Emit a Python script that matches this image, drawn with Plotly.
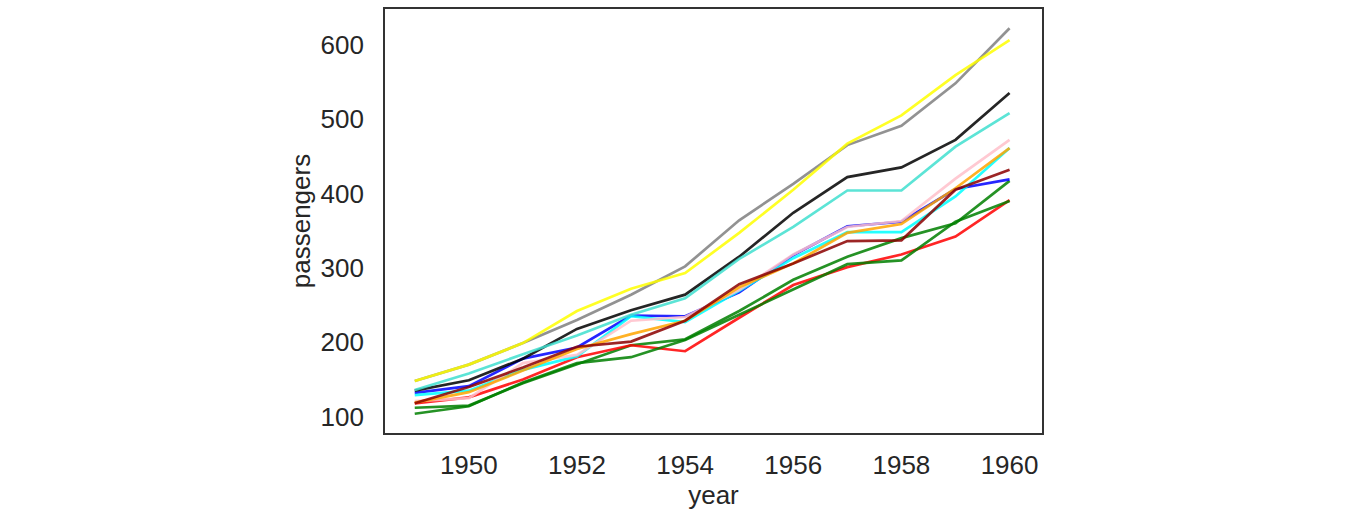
import plotly.graph_objects as go

years = list(range(1949, 1961))
months = ["Jan", "Feb", "Mar", "Apr", "May", "Jun", "Jul", "Aug", "Sep", "Oct", "Nov", "Dec"]
jan = [112, 115, 145, 171, 196, 204, 242, 284, 315, 340, 360, 417]
feb = [118, 126, 150, 180, 196, 188, 233, 277, 301, 318, 342, 391]
mar = [132, 141, 178, 193, 236, 235, 267, 317, 356, 362, 406, 419]
apr = [129, 135, 163, 181, 235, 227, 269, 313, 348, 348, 396, 461]
may = [121, 125, 172, 183, 229, 234, 270, 318, 355, 363, 420, 472]
jun = [135, 149, 178, 218, 243, 264, 315, 374, 422, 435, 472, 535]
jul = [148, 170, 199, 230, 264, 302, 364, 413, 465, 491, 548, 622]
aug = [148, 170, 199, 242, 272, 293, 347, 405, 467, 505, 559, 606]
sep = [136, 158, 184, 209, 237, 259, 312, 355, 404, 404, 463, 508]
oct_ = [119, 133, 162, 191, 211, 229, 274, 306, 347, 359, 407, 461]
nov = [104, 114, 146, 172, 180, 203, 237, 271, 305, 310, 362, 390]
dec = [118, 140, 166, 194, 201, 229, 278, 306, 336, 337, 405, 432]
series = [jan, feb, mar, apr, may, jun, jul, aug, sep, oct_, nov, dec]
colors = ["#008000", "#ff0000", "#0000ff", "#00ffff", "#ffc0cb", "#000000",
          "#808080", "#ffff00", "#40e0d0", "#ffa500", "#008000", "#8b0000"]

fig = go.Figure()
for m, vals, c in zip(months, series, colors):
    fig.add_trace(go.Scatter(x=years, y=vals, mode="lines", name=m,
                             line=dict(color=c, width=2.7), opacity=0.85))

font = dict(family="Liberation Sans, Arial, sans-serif", size=26, color="#262626")
fig.update_layout(
    width=1345, height=512,
    margin=dict(l=385, r=303, t=7, b=79),
    paper_bgcolor="white", plot_bgcolor="white",
    showlegend=False, font=font,
)
fig.update_xaxes(range=[1948.45, 1960.6], tickvals=[1950, 1952, 1954, 1956, 1958, 1960],
                 showgrid=False, zeroline=False, showline=True, mirror=True,
                 linecolor="#333333", linewidth=1.8, ticks="", ticklabelstandoff=8,
                 title=dict(text="year", standoff=2, font=font), tickfont=font)
fig.update_yaxes(range=[78.1, 647.9], tickvals=[100, 200, 300, 400, 500, 600],
                 showgrid=False, zeroline=False, showline=True, mirror=True,
                 linecolor="#333333", linewidth=1.8, ticks="", ticklabelstandoff=14,
                 title=dict(text="passengers", standoff=2, font=font), tickfont=font)
fig.write_html("out.html")
